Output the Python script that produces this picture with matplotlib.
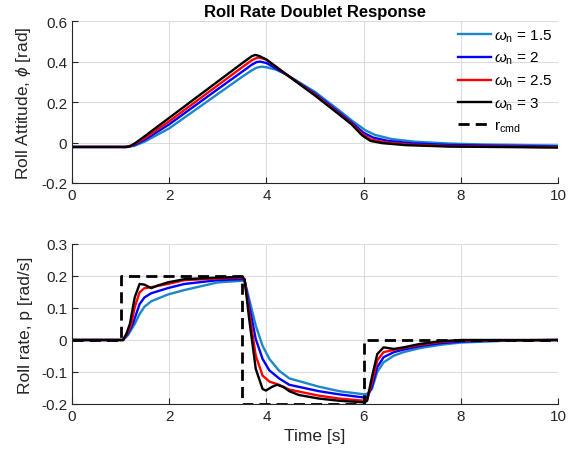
import numpy as np
import matplotlib
matplotlib.use('Agg')
import matplotlib.pyplot as plt

# ---- data ----
labels = [r'$\omega_\mathrm{n}$ = 1.5', r'$\omega_\mathrm{n}$ = 2',
          r'$\omega_\mathrm{n}$ = 2.5', r'$\omega_\mathrm{n}$ = 3']
colors = ['#1b87c9', '#0000ff', '#ff0000', '#000000']

# roll attitude phi [rad]
phi_t_15 = [0, 1.15, 1.3, 1.5, 2, 2.5, 3, 3.5, 3.7, 3.8, 3.9, 4.0, 4.2, 4.42, 5, 5.5, 5.76, 6.04, 6.24, 6.58, 7.06, 7.75, 8.5, 10]
phi_15 = [-0.022, -0.022, -0.015, 0.005, 0.07, 0.155, 0.24, 0.325, 0.357, 0.37, 0.375, 0.372, 0.36, 0.335, 0.25, 0.158, 0.108, 0.06, 0.037, 0.017, 0.004, -0.005, -0.01, -0.015]
phi_t_2 = [0, 1.13, 1.28, 1.5, 2, 2.5, 3, 3.5, 3.7, 3.8, 3.87, 4.0, 4.42, 5, 5.5, 5.75, 6.0, 6.2, 6.5, 7.0, 7.75, 10]
phi_2 = [-0.022, -0.022, -0.013, 0.014, 0.09, 0.177, 0.264, 0.35, 0.385, 0.398, 0.40, 0.393, 0.334, 0.242, 0.148, 0.1, 0.048, 0.024, 0.008, -0.004, -0.012, -0.02]
phi_t_25 = [0, 1.12, 1.25, 1.5, 2, 2.5, 3, 3.5, 3.7, 3.8, 3.85, 4.0, 4.42, 5, 5.5, 5.75, 5.98, 6.15, 6.4, 6.9, 7.75, 10]
phi_25 = [-0.022, -0.022, -0.012, 0.022, 0.105, 0.194, 0.283, 0.372, 0.407, 0.418, 0.42, 0.41, 0.334, 0.236, 0.142, 0.094, 0.04, 0.015, 0.002, -0.01, -0.018, -0.023]
phi_t_3 = [0, 1.1, 1.2, 1.3, 1.5, 2, 2.5, 3, 3.5, 3.7, 3.77, 3.85, 4.0, 4.42, 5, 5.5, 5.75, 5.97, 6.14, 6.38, 6.86, 7.75, 10]
phi_3 = [-0.022, -0.022, -0.018, -0.003, 0.032, 0.122, 0.212, 0.302, 0.392, 0.427, 0.433, 0.428, 0.41, 0.335, 0.232, 0.138, 0.09, 0.035, 0.008, -0.003, -0.013, -0.02, -0.025]

# roll rate p [rad/s]
p_t_15 = [0, 1.05, 1.15, 1.29, 1.39, 1.49, 1.63, 1.97, 2.31, 3.0, 3.5, 3.55, 3.645, 3.78, 3.92, 4.06, 4.26, 4.47, 5.08, 5.5, 6.02, 6.07, 6.17, 6.28, 6.41, 6.62, 6.82, 7.17, 7.58, 8.0, 9.0, 10]
p_15 = [0, 0, 0.015, 0.05, 0.081, 0.104, 0.121, 0.142, 0.156, 0.18, 0.185, 0.185, 0.128, 0.045, -0.018, -0.059, -0.096, -0.12, -0.146, -0.16, -0.17, -0.168, -0.153, -0.1, -0.07, -0.049, -0.038, -0.025, -0.015, -0.008, -0.002, 0]
p_t_2 = [0, 1.05, 1.15, 1.25, 1.39, 1.49, 1.63, 1.97, 2.31, 3.0, 3.5, 3.55, 3.645, 3.78, 3.92, 4.06, 4.26, 4.47, 5.08, 5.5, 6.02, 6.07, 6.17, 6.28, 6.41, 6.62, 6.82, 7.17, 7.58, 8.0, 9.0, 10]
p_2 = [0, 0, 0.02, 0.05, 0.112, 0.133, 0.146, 0.162, 0.175, 0.187, 0.19, 0.188, 0.107, 0.003, -0.059, -0.095, -0.12, -0.14, -0.16, -0.17, -0.18, -0.178, -0.147, -0.085, -0.054, -0.038, -0.03, -0.019, -0.01, -0.005, -0.001, 0]
p_t_25 = [0, 1.05, 1.15, 1.22, 1.29, 1.39, 1.49, 1.63, 1.97, 2.31, 3.0, 3.5, 3.55, 3.645, 3.78, 3.92, 4.06, 4.26, 4.47, 5.08, 5.5, 6.02, 6.07, 6.17, 6.28, 6.41, 6.62, 6.82, 7.17, 7.58, 8.0, 10]
p_25 = [0, 0, 0.025, 0.05, 0.102, 0.149, 0.162, 0.165, 0.175, 0.187, 0.192, 0.195, 0.19, 0.087, -0.049, -0.111, -0.13, -0.14, -0.155, -0.174, -0.183, -0.19, -0.188, -0.132, -0.064, -0.038, -0.031, -0.025, -0.015, -0.006, -0.002, 0]
p_t_3 = [0, 1.05, 1.12, 1.19, 1.29, 1.39, 1.49, 1.63, 1.76, 1.97, 2.31, 3.0, 3.5, 3.55, 3.645, 3.78, 3.92, 3.99, 4.12, 4.22, 4.35, 4.47, 4.67, 5.08, 5.5, 6.02, 6.07, 6.17, 6.28, 6.41, 6.62, 6.82, 7.17, 7.58, 8.0, 10]
p_3 = [0, 0, 0.02, 0.05, 0.133, 0.175, 0.173, 0.162, 0.17, 0.18, 0.19, 0.195, 0.197, 0.19, 0.065, -0.09, -0.153, -0.158, -0.146, -0.14, -0.147, -0.16, -0.172, -0.183, -0.19, -0.195, -0.19, -0.116, -0.044, -0.023, -0.028, -0.023, -0.012, -0.004, 0, 0]

# commanded roll rate
cmd_t = [0, 1.0, 3.5, 6.0, 10]
cmd_p = [0, 0.2, -0.2, 0, 0]

phi_ticks = [-0.2, 0, 0.2, 0.4, 0.6]
phi_ticklabels = ['-0.2', '0', '0.2', '0.4', '0.6']
p_ticks = [-0.2, -0.1, 0, 0.1, 0.2, 0.3]
p_ticklabels = ['-0.2', '-0.1', '0', '0.1', '0.2', '0.3']
t_ticks = [0, 2, 4, 6, 8, 10]

plt.rcParams['font.family'] = ['Liberation Sans', 'DejaVu Sans']
plt.rcParams['mathtext.fontset'] = 'custom'
plt.rcParams['mathtext.rm'] = 'Liberation Sans'
plt.rcParams['mathtext.it'] = 'Liberation Sans:italic'

fig = plt.figure(figsize=(5.87, 4.52), dpi=100)
ax1 = fig.add_axes([0.1227, 0.593, 0.828, 0.358])
ax2 = fig.add_axes([0.1227, 0.104, 0.828, 0.354])

phi_sets = [(phi_t_15, phi_15), (phi_t_2, phi_2), (phi_t_25, phi_25), (phi_t_3, phi_3)]
p_sets = [(p_t_15, p_15), (p_t_2, p_2), (p_t_25, p_25), (p_t_3, p_3)]

for (t, v), c, lab in zip(phi_sets, colors, labels):
    ax1.plot(t, v, color=c, lw=1.7, label=lab)
ax1.plot([], [], 'k--', lw=2, dashes=(4, 2.2), label=r'r$_\mathrm{cmd}$')

for (t, v), c in zip(p_sets, colors):
    ax2.plot(t, v, color=c, lw=1.7)
ax2.plot(cmd_t, cmd_p, 'k--', lw=2, dashes=(4, 2.2), drawstyle='steps-post')

for ax in (ax1, ax2):
    ax.set_xlim(0, 10)
    ax.set_xticks(t_ticks)
    ax.grid(True, color='#dcdcdc', lw=0.8)
    ax.set_axisbelow(True)
    ax.tick_params(direction='in', labelsize=11, colors='#262626', length=4)
    for s in ('top', 'right'):
        ax.spines[s].set_visible(False)
    for s in ('left', 'bottom'):
        ax.spines[s].set_color('#262626')

ax1.set_ylim(-0.2, 0.6)
ax1.set_yticks(phi_ticks)
ax1.set_yticklabels(phi_ticklabels)
ax1.set_ylabel(r'Roll Attitude, $\phi$ [rad]', fontsize=12.5, color='#262626', labelpad=6)
ax1.set_title('Roll Rate Doublet Response', fontsize=12, fontweight='bold', pad=4)
ax1.legend(loc='upper right', frameon=False, fontsize=11, handlelength=2.15,
           handletextpad=0.2, borderaxespad=0.1, labelspacing=0.42,
           borderpad=0.3, bbox_to_anchor=(1.0, 1.0))

ax2.set_ylim(-0.2, 0.3)
ax2.set_yticks(p_ticks)
ax2.set_yticklabels(p_ticklabels)
ax2.set_ylabel('Roll rate, p [rad/s]', fontsize=12.5, color='#262626', labelpad=6)
ax2.set_xlabel('Time [s]', fontsize=12.5, color='#262626')

fig.savefig('out.png', dpi=100)
